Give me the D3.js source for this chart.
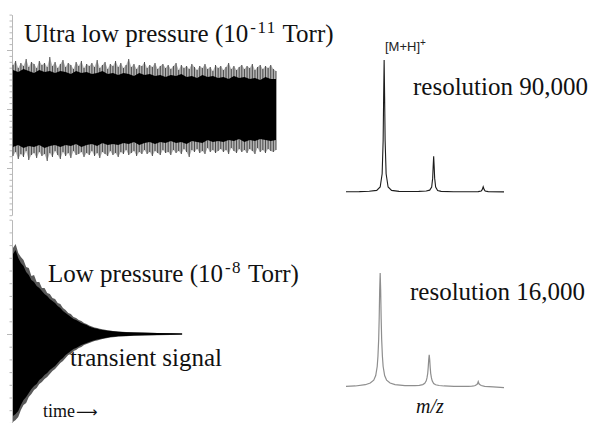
<!DOCTYPE html>
<html><head><meta charset="utf-8">
<script src="https://cdn.jsdelivr.net/npm/d3@7"></script>
<style>body{margin:0;background:#fff}svg{display:block}</style>
</head><body>
<svg id="c" width="591" height="423"></svg>
<script>
// ---------- DATA ----------
// Ultra-low-pressure transient: envelope half-amplitudes (arbitrary units) per time sample
const topOuterUpper = [44,48,41,46,43,50,42,47,45,41, 48,44,46,42,52,43,47,41,45,49,
  42,46,44,40,47,43,48,41,45,43, 46,42,49,41,44,47,40,45,43,48, 42,46,41,44,50,42,45,40,44,43,
  47,41,44,42,46,40,43,45,41,44, 40,43,46,39,44,41,43,40,45,42, 39,43,41,45,40,42,38,44,41,43,
  39,42,46,40,43,39,42,44,40,43, 41,45,39,42,44,40,43,41,44,40, 38];
const topOuterLower = [47,43,50,45,48,42,51,46,44,49, 43,47,45,52,44,48,42,46,50,43,
  47,44,49,42,46,45,43,48,44,46, 42,47,44,49,43,45,47,42,46,44, 48,43,45,41,46,44,42,47,43,45,
  41,45,43,47,42,44,46,41,44,43, 46,41,44,42,45,40,43,48,41,43, 40,44,42,45,39,43,41,44,42,40,
  43,41,45,39,42,44,40,43,41,44, 40,42,45,39,43,41,44,40,42,43, 41];
const topCoreUpper = [39,37,40,38,36,39,37,38,36,38, 37,35,38,36,37,35,36,38,35,36,
  34,36,35,33,36,34,35,33,34,32, 34,33,35,32,33,31,34,32,33,31, 32,30,33,31,32,30,31,29,32,30, 30];
const topCoreLower = [38,36,39,37,38,36,39,37,36,38, 36,37,35,38,36,35,37,34,36,35,
  36,34,35,33,36,34,33,35,33,34, 32,34,33,35,32,33,34,31,33,32, 33,31,32,30,33,31,32,30,31,32, 31];

// Low-pressure transient (decaying)
const botTime = [0,1,2,3,4,5,6,7,8,9,10,11,12,13,14,15,16,17,18,19,20,21,22,23,24,25,26,27,28,29,30,
  31,32,33,34,35,36,37,38,39,40,43,46,50,55,60,64.3];
const botOuterUpper = [86,90,81,77,74,67,66,58,59,52,52,46,46,41,40,36,35,31,30,26,24,21,20,17,16,14,13,11,10,8.5,7.5,
  6.5,6,5.2,4.7,4.2,3.8,3.4,3.1,2.8,2.5,2.0,1.7,1.4,1.1,0.9,0.8];
const botOuterLower = [88,86,83,76,71,69,63,60,56,54,50,48,45,43,40,37,35,32,29,27,24,21,20,17,16,14,13,11,10,9,8,
  7,6.5,5.8,5.1,4.5,4.0,3.6,3.2,2.9,2.6,2.2,1.8,1.5,1.2,1.0,0.8];
const botCoreUpper = [80,84,76,71,68,62,59,54,52,48,46,43,40,38,35,33,31,28,26,23,21,19,17,15,14,12.5,11,10,9,7.5,6.5,
  5.8,5.2,4.6,4.1,3.7,3.3,3.0,2.7,2.4,2.2,1.8,1.5,1.2,0.9,0.7,0.6];
const botCoreLower = [82,80,77,71,66,63,59,55,52,50,46,44,41,39,36,34,32,29,26,24,21,19,17,15,14,12.5,11,10,9,8,7,
  6.2,5.6,5,4.4,3.9,3.5,3.1,2.8,2.6,2.3,1.9,1.6,1.3,1.0,0.7,0.6];

// Mass spectrum, resolution 90,000 (m/z, relative intensity)
const spec90mz = [999.23,999.5,999.7,999.85,999.92,999.96,999.98,999.99,1000.00,1000.01,1000.02,1000.04,1000.08,1000.15,1000.3,
  1000.5,1000.7,1000.85,1000.92,1000.96,1000.98,1000.99,1001.00,1001.01,1001.02,1001.04,1001.08,1001.15,1001.4,
  1001.7,1001.9,1001.96,1001.98,1002.00,1002.02,1002.04,1002.1,1002.42];
const spec90int = [0.2,0.3,0.6,1.2,3.8,13.8,39,72,100,72,39,13.8,3.8,1.2,0.5,
  0.4,0.5,0.8,1.4,3.7,10.5,19.4,27,19.4,10.5,3.7,1.2,0.5,0.2,
  0.2,0.3,0.8,1.8,4,1.8,0.8,0.3,0.1];
// Mass spectrum, resolution 16,000
const spec16mz = [999.23,999.42,999.62,999.72,999.79,999.83,999.86,999.875,999.89,999.90,999.91,999.92,999.93,999.94,999.95,999.965,999.98,
  1000.01,1000.05,1000.12,1000.22,1000.42,1000.62,1000.71,1000.78,1000.82,1000.85,1000.865,1000.88,1000.89,1000.90,1000.91,1000.92,
  1000.93,1000.94,1000.955,1000.97,1001.0,1001.04,1001.11,1001.21,1001.41,1001.6,1001.7,1001.77,1001.81,1001.84,1001.87,1001.885,
  1001.9,1001.915,1001.93,1001.96,1002.03,1002.2,1002.42];
const spec16int = [0.5,0.9,2,3.5,6,10,18,27,42,60,85,100,85,60,42,27,18,
  10,6,3.5,2.1,1.2,1.2,1.5,2.1,3.2,5.4,8,12,17.2,24,28.3,24,
  17.2,12,8,5.4,3.1,2.0,1.3,0.9,0.6,0.5,0.6,0.8,1.0,1.3,2.2,2.8,
  4.7,2.8,2.2,1.3,0.6,0.1,-0.6];

// axis division ticks
const topDivTicks = d3.range(-18, 17);
const topDivMajor = [-10, 0, 10];
const botDivTicks = d3.range(-7, 10);
const botDivMajor = [0];

// ---------- SCALES ----------
const svg = d3.select('#c');
const serif = "'Liberation Serif','Times New Roman',serif";
const x = d3.scaleLinear().domain([0, 100]).range([13, 276]);
const yTop = d3.scaleLinear().domain([-100, 100]).range([209, 9]);
const yBot = d3.scaleLinear().domain([-100, 100]).range([434, 234]);
const topDiv = d3.scaleLinear().domain([-18, 16]).range([yTop(0) + 18 * 5.9, yTop(0) - 16 * 5.9]);
const botDiv = d3.scaleLinear().domain([-7, 9]).range([yBot(0) + 7 * 12.7, yBot(0) - 9 * 12.7]);
const xs = d3.scaleLinear().domain([999.23, 1002.42]).range([346, 504]);
const ys90 = d3.scaleLinear().domain([0, 100]).range([192, 60]);
const ys16 = d3.scaleLinear().domain([0, 100]).range([387, 273]);

// ---------- AXES ----------
function drawAxis(scale, ticks, major) {
  const g1 = svg.append('g').attr('transform', 'translate(12,0)')
    .call(d3.axisLeft(scale).tickValues(ticks).tickSize(2.5).tickSizeOuter(0).tickFormat(''));
  const g2 = svg.append('g').attr('transform', 'translate(12,0)')
    .call(d3.axisLeft(scale).tickValues(major).tickSize(5).tickSizeOuter(0).tickFormat(''));
  g2.select('.domain').remove();
  [g1, g2].forEach(g => { g.selectAll('line,path').attr('stroke', '#b8b8b8'); });
}
drawAxis(topDiv, topDivTicks, topDivMajor);
drawAxis(botDiv, botDivTicks, botDivMajor);

// ---------- TRANSIENTS ----------
const topT = d3.range(0, 101);
const topT2 = d3.range(0, 101, 2);
function envArea(ys, times, up, lo) {
  return d3.area().x((d, i) => x(times[i])).y0((d, i) => ys(-lo[i])).y1((d, i) => ys(up[i]))(times);
}
// faint haze between spikes
svg.append('path').attr('d', envArea(yTop, topT, topOuterUpper, topOuterLower)).attr('fill', '#b4b4b4');
// spikes
svg.append('g').selectAll('line').data(topT).join('line')
  .attr('x1', t => x(t)).attr('x2', t => x(t))
  .attr('y1', (t, i) => yTop(topOuterUpper[i])).attr('y2', (t, i) => yTop(-topOuterLower[i]))
  .attr('stroke', '#4a4a4a').attr('stroke-width', 1);
svg.append('path').attr('d', envArea(yTop, topT2, topCoreUpper, topCoreLower)).attr('fill', '#000');

svg.append('path').attr('d', envArea(yBot, botTime, botOuterUpper, botOuterLower)).attr('fill', '#5a5a5a');
svg.append('path').attr('d', envArea(yBot, botTime, botCoreUpper, botCoreLower)).attr('fill', '#000');

// ---------- SPECTRA ----------
const line90 = d3.line().x((d, i) => xs(spec90mz[i])).y((d, i) => ys90(spec90int[i]));
svg.append('path').attr('d', line90(spec90mz)).attr('fill', 'none').attr('stroke', '#1c1c1c').attr('stroke-width', 1.1);
const line16 = d3.line().x((d, i) => xs(spec16mz[i])).y((d, i) => ys16(spec16int[i]));
svg.append('path').attr('d', line16(spec16mz)).attr('fill', 'none').attr('stroke', '#8e8e8e').attr('stroke-width', 1.2);

// ---------- TEXT ----------
function title(xp, yp, main, sup, tail) {
  const t = svg.append('text').attr('x', xp).attr('y', yp).attr('font-family', serif).attr('font-size', 25).attr('fill', '#111');
  t.append('tspan').text(main);
  t.append('tspan').attr('font-size', 17).attr('dy', -9).attr('dx', 2).attr('letter-spacing', 1.5).text(sup);
  t.append('tspan').attr('dy', 9).text(tail);
}
title(24, 42, 'Ultra low pressure (10', '-11', ' Torr)');
title(48, 282, 'Low pressure (10', '-8', ' Torr)');

const mh = svg.append('text').attr('x', 385).attr('y', 51).attr('font-family', "'Liberation Sans',Arial,sans-serif")
  .attr('font-size', 13).attr('fill', '#222');
mh.append('tspan').text('[M+H]');
mh.append('tspan').attr('font-size', 10).attr('dy', -5).text('+');

svg.append('text').attr('x', 413).attr('y', 95).attr('font-family', serif).attr('font-size', 25).attr('fill', '#111').text('resolution 90,000');
svg.append('text').attr('x', 410).attr('y', 300).attr('font-family', serif).attr('font-size', 25).attr('fill', '#111').text('resolution 16,000');
svg.append('text').attr('x', 70).attr('y', 366).attr('font-family', serif).attr('font-size', 25).attr('fill', '#111').text('transient signal');
svg.append('text').attr('x', 416).attr('y', 413).attr('font-family', serif).attr('font-size', 20).attr('font-style', 'italic').attr('fill', '#111').text('m/z');
const tm = svg.append('text').attr('x', 43).attr('y', 417).attr('font-family', serif).attr('font-size', 18).attr('fill', '#111');
tm.append('tspan').text('time');
tm.append('tspan').attr('dx', 1).attr('font-family', "'DejaVu Sans',sans-serif").attr('font-size', 15).text('\u27F6');
</script>
</body></html>
